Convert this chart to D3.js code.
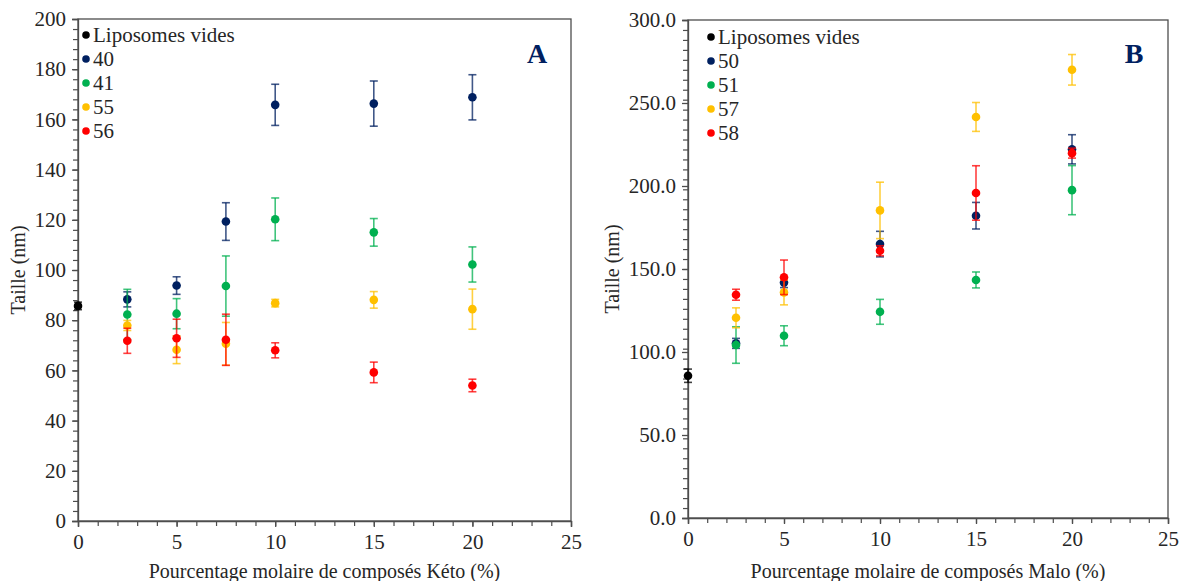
<!DOCTYPE html>
<html><head><meta charset="utf-8">
<script src="https://cdn.jsdelivr.net/npm/d3@7"></script>
<style>body{margin:0;background:#fff}svg{display:block}svg text{font-family:"Liberation Serif","Times New Roman",serif !important;fill:#262626}</style>
</head><body>
<svg id="c" width="1181" height="581"></svg>
<script>
// ---------- DATA ----------
const xValues = [2.5, 5, 7.5, 10, 15, 20];
const seriesColors = ["#002060", "#00B050", "#FFC000", "#FF0000"];

// Panel A (Kéto)
const ketoNames = ["40", "41", "55", "56"];
const ketoBlank = [85.7];
const ketoBlankErr = [1.5];
const keto40 = [88.3, 93.8, 119.3, 165.8, 166.3, 168.8];
const keto40Err = [3, 3.5, 7.5, 8.2, 9, 9];
const keto41 = [82.3, 82.6, 93.6, 120.2, 115.0, 102.2];
const keto41Err = [10, 6, 12, 8.5, 5.5, 7];
const keto55 = [77.9, 68.2, 70.6, 86.8, 88.1, 84.4];
const keto55Err = [2, 5.5, 8.5, 1.5, 3.3, 8];
const keto56 = [71.8, 72.8, 72.2, 68.0, 59.2, 54.0];
const keto56Err = [5, 7.6, 10.2, 3, 4.1, 2.5];
const ketoYTicks = [0, 20, 40, 60, 80, 100, 120, 140, 160, 180, 200];

// Panel B (Malo)
const maloNames = ["50", "51", "57", "58"];
const maloBlank = [85.7];
const maloBlankErr = [4];
const malo50 = [105.2, 141.8, 165.0, 182.1, 222.1];
const malo50Err = [3, 3, 7.7, 8, 8.8];
const malo51 = [104.2, 109.8, 124.2, 143.4, 197.5];
const malo51Err = [11, 6, 7.5, 4.8, 14.8];
const malo57 = [120.6, 135.9, 185.3, 241.6, 270.0];
const malo57Err = [6, 7.5, 17, 8.7, 9.2];
const malo58 = [134.5, 145.0, 161.0, 195.8, 219.8];
const malo58Err = [3.3, 10.4, 3, 16.4, 3];
const maloX = [2.5, 5, 10, 15, 20];
const maloYTicks = [0, 50, 100, 150, 200, 250, 300];

const xTicks = [0, 5, 10, 15, 20, 25];
const blankName = "Liposomes vides";
// ---------------------------

const svg = d3.select("#c");
const SERIF = '"Liberation Serif","Times New Roman",serif';

function panel(o) {
  const g = svg.append("g");
  const x = d3.scaleLinear().domain([0, 25]).range([o.x0, o.x1]);
  const y = d3.scaleLinear().domain([0, o.ymax]).range([o.y1, o.y0]);
  const axisColor = "#4d4d4d";

  g.append("rect").attr("x", o.x0).attr("y", o.y0).attr("width", o.x1 - o.x0).attr("height", o.y1 - o.y0)
    .attr("fill", "none").attr("stroke", axisColor).attr("stroke-width", 1.3);

  const yMinor = d3.range(0, o.ymax + 1e-9, o.ymax / 50);
  g.append("g").attr("transform", `translate(${o.x0},0)`)
    .call(d3.axisLeft(y).tickValues(yMinor).tickSize(5).tickFormat(""))
    .call(s => { s.select(".domain").remove(); s.selectAll("line").attr("stroke", axisColor).attr("stroke-width", 1.2); });
  const xMinor = d3.range(0, 26, 1);
  g.append("g").attr("transform", `translate(0,${o.y1})`)
    .call(d3.axisBottom(x).tickValues(xMinor).tickSize(5).tickFormat(""))
    .call(s => { s.select(".domain").remove(); s.selectAll("line").attr("stroke", axisColor).attr("stroke-width", 1.2); });

  const styleAxis = s => {
    s.attr("font-family", SERIF).attr("font-size", 21);
    s.select(".domain").attr("stroke", axisColor).attr("stroke-width", 1.3);
    s.selectAll("line").attr("stroke", axisColor).attr("stroke-width", 1.3);
    s.selectAll("text").style("font-family", SERIF).style("font-size", "21px").style("fill", "#262626");
  };
  g.append("g").attr("transform", `translate(${o.x0},0)`)
    .call(d3.axisLeft(y).tickValues(o.yTicks).tickSize(6).tickPadding(6).tickFormat(o.yFmt))
    .call(styleAxis);
  g.append("g").attr("transform", `translate(0,${o.y1})`)
    .call(d3.axisBottom(x).tickValues(xTicks).tickSize(6).tickPadding(7).tickFormat(d3.format("d")))
    .call(styleAxis);

  g.append("text").attr("x", (o.x0 + o.x1) / 2).attr("y", 578).attr("text-anchor", "middle")
    .style("font-size", "20px").text(o.xTitle);
  g.append("text").attr("transform", `translate(${o.ytx},${(o.y0 + o.y1) / 2}) rotate(-90)`)
    .attr("text-anchor", "middle").style("font-size", "20px").text("Taille (nm)");

  const all = [{ name: blankName, color: "#000000", xs: [0], vs: o.blank, es: o.blankErr }]
    .concat(o.series.map((s, i) => ({ name: o.names[i], color: seriesColors[i], xs: o.xs, vs: s.v, es: s.e })));

  all.forEach(s => {
    const pts = s.vs.map((v, i) => ({ x: s.xs[i], v, e: s.es[i] }));
    const eg = g.append("g").attr("stroke", s.color).attr("stroke-width", 1.6).attr("stroke-opacity", 0.75);
    pts.forEach(p => {
      const cx = x(p.x), yt = y(p.v + p.e), yb = y(p.v - p.e);
      eg.append("line").attr("x1", cx).attr("x2", cx).attr("y1", yt).attr("y2", yb);
      eg.append("line").attr("x1", cx - 4).attr("x2", cx + 4).attr("y1", yt).attr("y2", yt);
      eg.append("line").attr("x1", cx - 4).attr("x2", cx + 4).attr("y1", yb).attr("y2", yb);
    });
    g.append("g").selectAll("circle").data(pts).join("circle")
      .attr("cx", p => x(p.x)).attr("cy", p => y(p.v)).attr("r", 4.3).attr("fill", s.color);
  });

  all.forEach((s, i) => {
    const ly = o.legY + i * 24;
    g.append("circle").attr("cx", o.legX).attr("cy", ly).attr("r", 3.8).attr("fill", s.color);
    g.append("text").attr("x", o.legX + 7).attr("y", ly + 7).style("font-size", "21px").text(s.name);
  });

  g.append("text").attr("x", o.letterX).attr("y", 63).attr("text-anchor", "middle")
    .style("font-size", "28px").attr("font-weight", "bold").style("fill", "#002060").text(o.letter);
}

panel({
  x0: 78, x1: 571, y0: 19, y1: 521, ymax: 200, yTicks: ketoYTicks, yFmt: d3.format("d"),
  xTitle: "Pourcentage molaire de composés Kéto (%)", ytx: 25,
  blank: ketoBlank, blankErr: ketoBlankErr, xs: xValues, names: ketoNames,
  series: [{ v: keto40, e: keto40Err }, { v: keto41, e: keto41Err }, { v: keto55, e: keto55Err }, { v: keto56, e: keto56Err }],
  legX: 86, legY: 35, letter: "A", letterX: 537
});

panel({
  x0: 688, x1: 1168, y0: 20, y1: 518, ymax: 300, yTicks: maloYTicks, yFmt: d3.format(".1f"),
  xTitle: "Pourcentage molaire de composés Malo (%)", ytx: 619,
  blank: maloBlank, blankErr: maloBlankErr, xs: maloX, names: maloNames,
  series: [{ v: malo50, e: malo50Err }, { v: malo51, e: malo51Err }, { v: malo57, e: malo57Err }, { v: malo58, e: malo58Err }],
  legX: 711, legY: 37, letter: "B", letterX: 1134
});
</script>
</body></html>
